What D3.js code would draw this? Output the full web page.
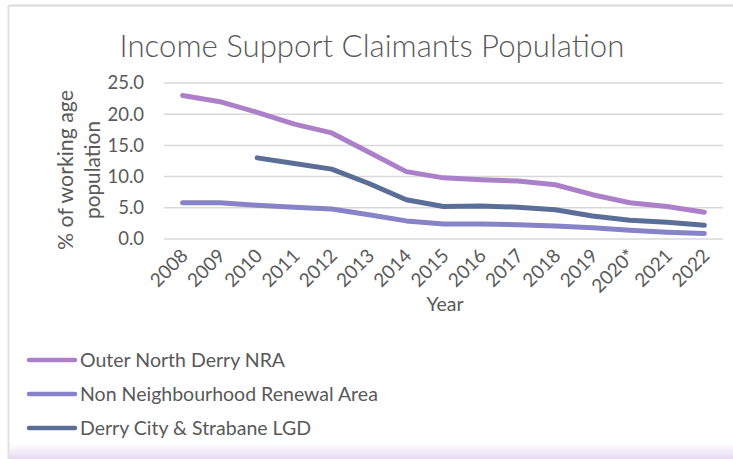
<!DOCTYPE html>
<html><head><meta charset="utf-8">
<script src="https://cdn.jsdelivr.net/npm/d3@7"></script>
<style>body{margin:0;background:#fff;}svg{display:block;}</style>
</head><body>
<svg id="c" width="733" height="459"></svg>
<script>
const years = ["2008","2009","2010","2011","2012","2013","2014","2015","2016","2017","2018","2019","2020*","2021","2022"];
const outerNorthDerry = [23.0,22.0,20.3,18.4,17.0,13.9,10.8,9.8,9.5,9.3,8.7,7.1,5.8,5.2,4.3];
const nonNRA = [5.8,5.8,5.4,5.1,4.8,3.9,2.9,2.4,2.4,2.3,2.1,1.8,1.4,1.1,0.9];
const derryLGD = [null,null,13.0,12.1,11.2,8.9,6.3,5.2,5.3,5.1,4.7,3.7,3.0,2.7,2.2];
const yTicks = [0,5,10,15,20,25];
const seriesNames = ["Outer North Derry NRA","Non Neighbourhood Renewal Area","Derry City & Strabane LGD"];
const seriesColors = ["#AC80C9","#8683C8","#5B6E98"];

const svg = d3.select("#c");
const font = "Lato, 'Open Sans', sans-serif";
const textColor = "#595959";

function fit(sel, base, w){
  const l = sel.node().getComputedTextLength();
  if(l>0) sel.attr("font-size", base*w/l);
}

// background / frame
const defs = svg.append("defs");
const g1 = defs.append("linearGradient").attr("id","bot").attr("x1",0).attr("x2",0).attr("y1",0).attr("y2",1);
g1.append("stop").attr("offset","0%").attr("stop-color","#fff");
g1.append("stop").attr("offset","100%").attr("stop-color","#e6d9f0");
svg.append("rect").attr("x",8).attr("y",444).attr("width",725).attr("height",15).attr("fill","url(#bot)");
svg.append("line").attr("x1",8).attr("x2",733).attr("y1",5.5).attr("y2",5.5).attr("stroke","#d9d9d9").attr("stroke-width",2);
svg.append("line").attr("x1",8.5).attr("x2",8.5).attr("y1",5).attr("y2",459).attr("stroke","#e0e0e0").attr("stroke-width",2);

const x = d3.scalePoint().domain(years).range([164,723]).padding(0.5);
const y = d3.scaleLinear().domain([0,25]).range([239,83]);

// title
const title = svg.append("text").attr("x",372).attr("y",57).attr("text-anchor","middle")
  .attr("font-family",font).attr("font-weight",300).attr("font-size",29).attr("fill",textColor)
  .text("Income Support Claimants Population");
fit(title,29,505);

// gridlines
svg.append("g").selectAll("line").data(yTicks).join("line")
  .attr("x1",164).attr("x2",723).attr("y1",d=>y(d)).attr("y2",d=>y(d))
  .attr("stroke","#d9d9d9").attr("stroke-width",1.5);

// y axis
const yAxis = svg.append("g").attr("transform","translate(164,0)")
  .call(d3.axisLeft(y).tickValues(yTicks).tickFormat(d3.format(".1f")).tickSize(0).tickPadding(20));
yAxis.select(".domain").remove();
yAxis.selectAll("text").attr("font-family",font).attr("font-size",18.5).attr("fill",textColor);

// x axis
const xAxis = svg.append("g").attr("transform","translate(0,239)")
  .call(d3.axisBottom(x).tickSize(0).tickPadding(0));
xAxis.select(".domain").remove();
xAxis.selectAll("text").attr("font-family",font).attr("font-size",19).attr("fill",textColor)
  .attr("text-anchor","end").attr("dy",0).attr("y",0)
  .attr("transform","translate(6,18) rotate(-45)");

// axis titles
svg.append("text").attr("x",445).attr("y",311).attr("text-anchor","middle")
  .attr("font-family",font).attr("font-size",19.5).attr("fill",textColor).text("Year");
const yt = svg.append("text").attr("transform","translate(0,170) rotate(-90)")
  .attr("text-anchor","middle").attr("font-family",font).attr("fill",textColor);
const t1 = yt.append("tspan").attr("x",0).attr("y",73).attr("font-size",22).text("% of working age");
const t2 = yt.append("tspan").attr("x",0).attr("y",100).attr("font-size",22).text("population");
fit(t1,22,160); fit(t2,22,98);

// lines
const allSeries = [outerNorthDerry, nonNRA, derryLGD];
const line = d3.line().defined(d=>d[1]!=null).x(d=>x(d[0])).y(d=>y(d[1]));
allSeries.forEach((s,i)=>{
  svg.append("path").datum(years.map((yr,j)=>[yr,s[j]]))
    .attr("d",line).attr("fill","none").attr("stroke",seriesColors[i])
    .attr("stroke-width",5).attr("stroke-linecap","round").attr("stroke-linejoin","round");
});

// legend
const lg = svg.append("g").selectAll("g").data(seriesNames).join("g")
  .attr("transform",(d,i)=>`translate(0,${360+i*34})`);
lg.append("line").attr("x1",29).attr("x2",75).attr("y1",0).attr("y2",0)
  .attr("stroke",(d,i)=>seriesColors[i]).attr("stroke-width",4.5).attr("stroke-linecap","round");
const lt = lg.append("text").attr("x",80).attr("y",7).attr("font-family",font).attr("font-size",19)
  .attr("fill",textColor).text(d=>d);
const longest = lt.filter((d,i)=>i===1);
const l0 = longest.node().getComputedTextLength();
if(l0>0) lt.attr("font-size",19*298/l0);
</script>
</body></html>
